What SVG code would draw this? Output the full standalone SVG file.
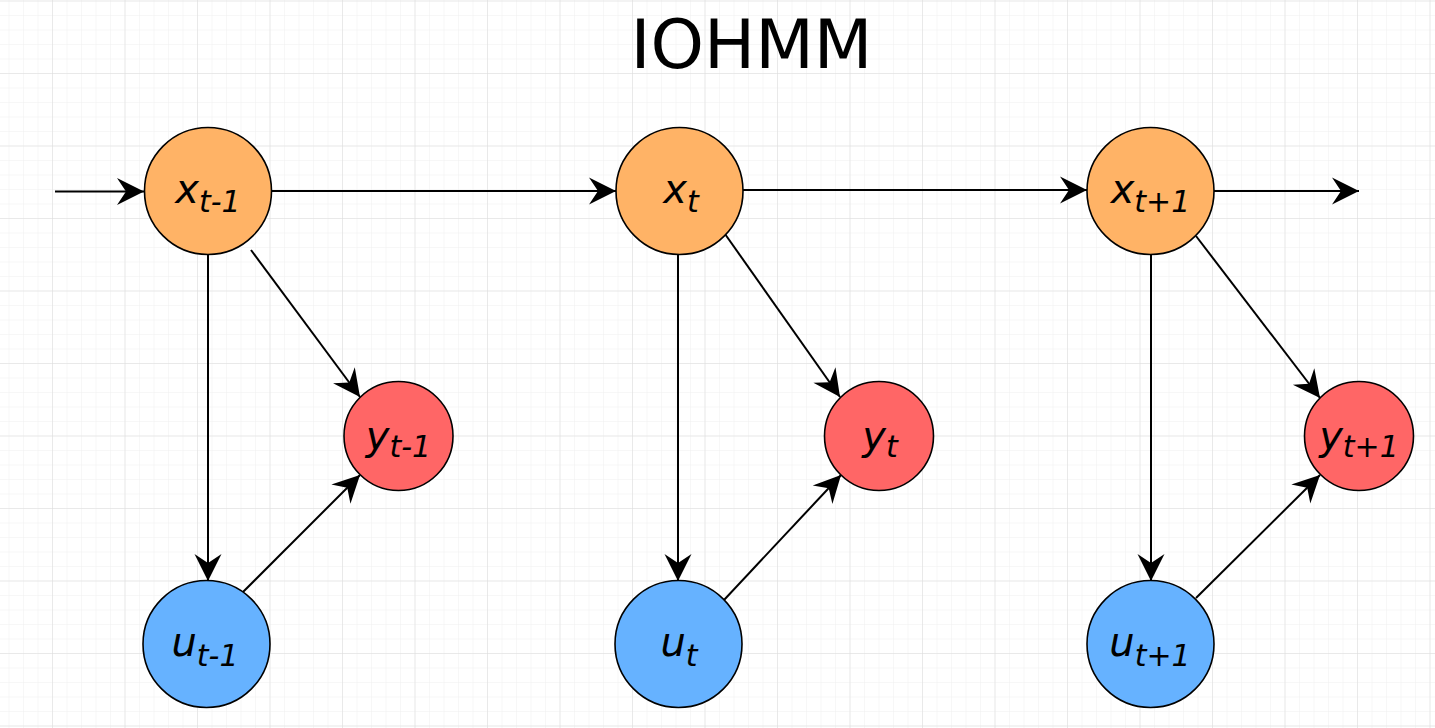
<svg xmlns="http://www.w3.org/2000/svg" width="1435" height="728" viewBox="0 0 1435 728">
  <defs>
    <pattern id="minor" patternUnits="userSpaceOnUse" x="52" y="0.5" width="14.5" height="14.5">
      <path d="M0,0 H14.5 M0,0 V14.5" fill="none" stroke="#f0f0f0" stroke-width="1"/>
    </pattern>
    <pattern id="major" patternUnits="userSpaceOnUse" x="52" y="0.5" width="72.5" height="72.5">
      <path d="M0,0 H72.5 M0,0 V72.5" fill="none" stroke="#dcdcdc" stroke-width="1"/>
    </pattern>
    <marker id="arrow" markerUnits="userSpaceOnUse" viewBox="-30 -16 32 32" refX="0" refY="0" markerWidth="32" markerHeight="32" orient="auto">
      <path d="M0,0 L-27,-13.5 L-18,0 L-27,13.5 Z" fill="#000"/>
    </marker>
    <style>
      .conn { fill: none; stroke: #000; stroke-width: 2; marker-end: url(#arrow); }
      .node circle { stroke: #000; stroke-width: 1.6; }
      .x circle { fill: #FFB366; }
      .y circle { fill: #FF6666; }
      .u circle { fill: #66B2FF; }
      .lbl { font-family: "DejaVu Sans", Verdana, sans-serif; font-style: italic; font-size: 40px; fill: #000; }
      .sub { font-size: 30px; }
      .title { font-family: "DejaVu Sans", Verdana, sans-serif; font-size: 68px; fill: #000; }
    </style>
  </defs>

  <rect x="0" y="0" width="1435" height="728" fill="#ffffff"/>
  <rect x="0" y="0" width="1435" height="728" fill="url(#minor)"/>
  <rect x="0" y="0" width="1435" height="728" fill="url(#major)"/>

  <text class="title" x="751.5" y="68" text-anchor="middle">IOHMM</text>

  <g id="connectors">
    <line class="conn" x1="55" y1="191.5" x2="144" y2="191.5"/>
    <line class="conn" x1="272" y1="191" x2="616" y2="191"/>
    <line class="conn" x1="743" y1="190" x2="1087" y2="190"/>
    <line class="conn" x1="1214" y1="191" x2="1359" y2="191"/>

    <line class="conn" x1="251" y1="250" x2="360" y2="397"/>
    <line class="conn" x1="208" y1="255" x2="208" y2="581"/>
    <line class="conn" x1="242" y1="593" x2="360" y2="475"/>

    <line class="conn" x1="725" y1="234" x2="840" y2="397"/>
    <line class="conn" x1="678" y1="255" x2="678" y2="581"/>
    <line class="conn" x1="724" y1="600" x2="841" y2="475"/>

    <line class="conn" x1="1196" y1="236" x2="1320" y2="398"/>
    <line class="conn" x1="1151" y1="255" x2="1151" y2="581"/>
    <line class="conn" x1="1196" y1="598" x2="1320" y2="475"/>
  </g>

  <g id="x_tm1" class="node x">
    <circle cx="208" cy="191" r="63.5"/>
    <text class="lbl" x="208" y="203" text-anchor="middle">x<tspan class="sub" dy="9">t-1</tspan></text>
  </g>
  <g id="x_t" class="node x">
    <circle cx="679.5" cy="191" r="63.5"/>
    <text class="lbl" x="681" y="203" text-anchor="middle">x<tspan class="sub" dy="9">t</tspan></text>
  </g>
  <g id="x_tp1" class="node x">
    <circle cx="1150.5" cy="191" r="63.5"/>
    <text class="lbl" x="1150.5" y="203" text-anchor="middle">x<tspan class="sub" dy="9">t+1</tspan></text>
  </g>

  <g id="y_tm1" class="node y">
    <circle cx="398.5" cy="436" r="54.5"/>
    <text class="lbl" x="398.5" y="450" text-anchor="middle">y<tspan class="sub" dy="7">t-1</tspan></text>
  </g>
  <g id="y_t" class="node y">
    <circle cx="879" cy="436" r="54.5"/>
    <text class="lbl" x="880" y="450" text-anchor="middle">y<tspan class="sub" dy="7">t</tspan></text>
  </g>
  <g id="y_tp1" class="node y">
    <circle cx="1359" cy="436" r="54.5"/>
    <text class="lbl" x="1359" y="450" text-anchor="middle">y<tspan class="sub" dy="7">t+1</tspan></text>
  </g>

  <g id="u_tm1" class="node u">
    <circle cx="206.5" cy="644" r="63.5"/>
    <text class="lbl" x="205" y="656" text-anchor="middle">u<tspan class="sub" dy="10">t-1</tspan></text>
  </g>
  <g id="u_t" class="node u">
    <circle cx="678.5" cy="644" r="63.5"/>
    <text class="lbl" x="679" y="656" text-anchor="middle">u<tspan class="sub" dy="10">t</tspan></text>
  </g>
  <g id="u_tp1" class="node u">
    <circle cx="1150.5" cy="644" r="63.5"/>
    <text class="lbl" x="1150" y="656" text-anchor="middle">u<tspan class="sub" dy="10">t+1</tspan></text>
  </g>
</svg>
